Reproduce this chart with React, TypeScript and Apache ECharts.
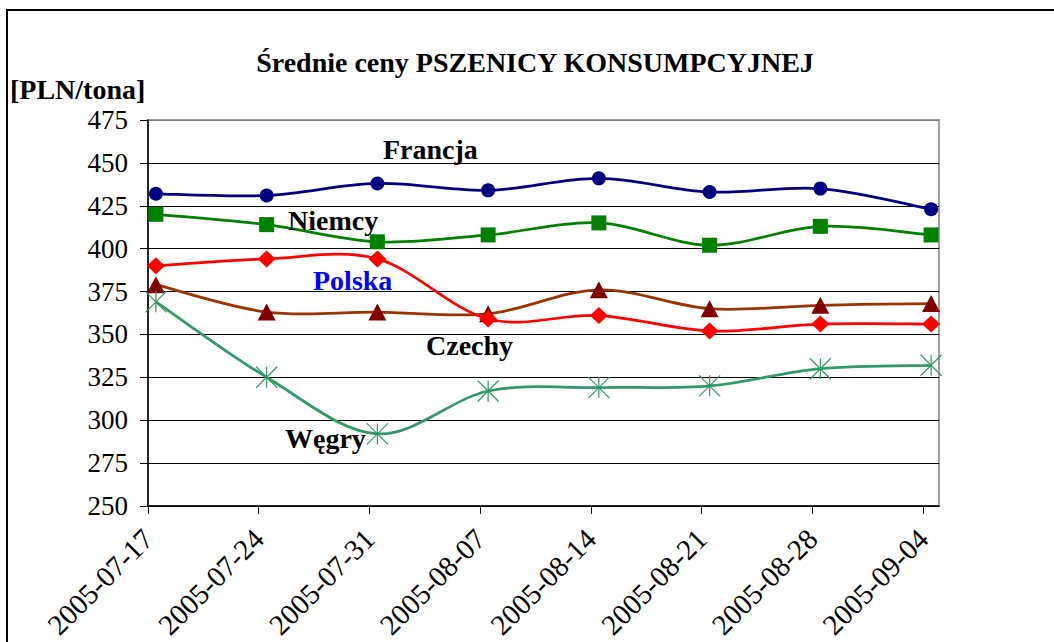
import React, { useEffect, useRef } from "react";
import * as echarts from "echarts";

const dates = [
  "2005-07-17",
  "2005-07-24",
  "2005-07-31",
  "2005-08-07",
  "2005-08-14",
  "2005-08-21",
  "2005-08-28",
  "2005-09-04",
];
const francja = [432, 431, 438, 434, 441, 433, 435, 423];
const niemcy = [420, 414, 404, 408, 415, 402, 413, 408];
const polska = [390, 394, 394, 359, 361, 352, 356, 356];
const czechy = [379, 363, 363, 362, 376, 365, 367, 368];
const wegry = [369, 325, 292, 317, 319, 320, 330, 332];
const yMin = 250;
const yMax = 475;
const yStep = 25;

const title = "Średnie ceny PSZENICY KONSUMPCYJNEJ";
const yName = "[PLN/tona]";

const SERIF = "'Liberation Serif', 'Times New Roman', serif";
const DAY = 86400000;
const dayIndex = (d: string) => (Date.parse(d) - Date.parse(dates[0])) / DAY;
const tickValues = dates.map(dayIndex);
const toPoints = (vals: number[]) => vals.map((v, i) => [tickValues[i] + 0.5, v]);

// Excel-like (Catmull-Rom) smoothed line drawn segment by segment through the axis scales
const smoothCurve = (name: string, data: number[], color: string, width: number, z: number) => ({
  name: name + "-curve",
  type: "custom",
  data: toPoints(data),
  encode: { x: 0, y: 1 },
  z,
  silent: true,
  renderItem: (params: any, api: any) => {
    const i = params.dataIndexInside;
    const n = params.dataInsideLength;
    if (i >= n - 1) return { type: "group", children: [] };
    const pt = (k: number) => {
      const kk = Math.max(0, Math.min(n - 1, k));
      return api.coord([api.value(0, kk), api.value(1, kk)]);
    };
    const p0 = pt(i - 1);
    const p1 = pt(i);
    const p2 = pt(i + 1);
    const p3 = pt(i + 2);
    const t = 1 / 6;
    return {
      type: "bezierCurve",
      shape: {
        x1: p1[0],
        y1: p1[1],
        x2: p2[0],
        y2: p2[1],
        cpx1: p1[0] + (p2[0] - p0[0]) * t,
        cpy1: p1[1] + (p2[1] - p0[1]) * t,
        cpx2: p2[0] - (p3[0] - p1[0]) * t,
        cpy2: p2[1] - (p3[1] - p1[1]) * t,
      },
      style: { stroke: color, lineWidth: width, fill: "none" },
    };
  },
});

const markers = (name: string, data: number[], symbol: string, size: any, itemStyle: any, z: number) => ({
  name,
  type: "line",
  data: toPoints(data),
  symbol,
  symbolSize: size,
  showSymbol: true,
  lineStyle: { width: 0, opacity: 0 },
  itemStyle,
  z,
});

export default function App() {
  const ref = useRef<HTMLDivElement>(null);
  useEffect(() => {
    if (!ref.current) return;
    const chart = echarts.init(ref.current, undefined, { renderer: "svg" });
    const nLines = (yMax - yMin) / yStep + 1;
    const splitColors = Array.from({ length: nLines }, (_, i) => (i === nLines - 1 ? "#808080" : "#000000"));
    const textStyle = (text: string, fill = "#000", align = "left", size = 28) => ({
      text,
      fontSize: size,
      fontWeight: "bold",
      fontFamily: SERIF,
      fill,
      align,
      verticalAlign: "middle",
    });
    chart.setOption({
      animation: false,
      backgroundColor: "#ffffff",
      textStyle: { fontFamily: SERIF },
      grid: {
        left: 148,
        top: 120,
        right: 115,
        bottom: 136,
        show: true,
        borderColor: "#808080",
        borderWidth: 1.5,
        backgroundColor: "transparent",
      },
      xAxis: {
        type: "value",
        min: 0,
        max: tickValues[tickValues.length - 1] + 1,
        interval: 7,
        axisLine: { show: true, lineStyle: { color: "#000", width: 1.5 } },
        axisTick: { show: true, length: 8, lineStyle: { color: "#000" }, customValues: tickValues },
        splitLine: { show: false },
        axisLabel: {
          customValues: tickValues,
          rotate: 45,
          margin: 28,
          fontSize: 29,
          fontFamily: SERIF,
          color: "#000",
          formatter: (v: number) => {
            const i = tickValues.indexOf(v);
            return i >= 0 ? dates[i] : "";
          },
        },
      },
      yAxis: {
        type: "value",
        min: yMin,
        max: yMax,
        interval: yStep,
        axisLine: { show: true, lineStyle: { color: "#000", width: 1.5 } },
        axisTick: { show: true, length: 8, lineStyle: { color: "#000" } },
        splitLine: { show: true, lineStyle: { color: splitColors, width: 1 } },
        axisLabel: { fontSize: 27, fontFamily: SERIF, color: "#000", margin: 20 },
      },
      graphic: [
        {
          type: "rect",
          shape: { x: 7, y: 10, width: 1200, height: 800 },
          style: { fill: "none", stroke: "#000", lineWidth: 2 },
          silent: true,
        },
        { type: "text", x: 535, y: 62, style: textStyle(title, "#000", "center", 28) },
        { type: "text", x: 10, y: 89, style: textStyle(yName, "#000", "left", 28) },
        { type: "text", x: 383, y: 149, z: 10, style: textStyle("Francja") },
        { type: "text", x: 288, y: 220, z: 10, style: textStyle("Niemcy") },
        { type: "text", x: 313, y: 280, z: 10, style: textStyle("Polska", "#0000FF") },
        { type: "text", x: 426, y: 345, z: 10, style: textStyle("Czechy") },
        { type: "text", x: 285, y: 438, z: 10, style: textStyle("Węgry") },
      ],
      series: [
        smoothCurve("Francja", francja, "#000080", 2.75, 3),
        markers("Francja", francja, "circle", 14, { color: "#000080" }, 4),
        smoothCurve("Niemcy", niemcy, "#008000", 2.75, 3),
        markers("Niemcy", niemcy, "rect", 15, { color: "#008000" }, 4),
        smoothCurve("Czechy", czechy, "#993300", 2.75, 3),
        markers("Czechy", czechy, "triangle", [18, 17], { color: "#800000" }, 4),
        smoothCurve("Polska", polska, "#FF0000", 2.75, 3),
        markers("Polska", polska, "diamond", [18, 17], { color: "#FF0000" }, 4),
        smoothCurve("Węgry", wegry, "#339966", 2.75, 3),
        markers(
          "Węgry",
          wegry,
          "path://M0,0L20,20M20,0L0,20M10,0L10,20",
          21,
          { color: "none", borderColor: "#339966", borderWidth: 1.2 },
          4
        ),
      ],
    });
    return () => chart.dispose();
  }, []);
  return (
    <div
      ref={ref}
      style={{ position: "absolute", left: 0, top: 0, width: 1054, height: 642, background: "#fff" }}
    />
  );
}
